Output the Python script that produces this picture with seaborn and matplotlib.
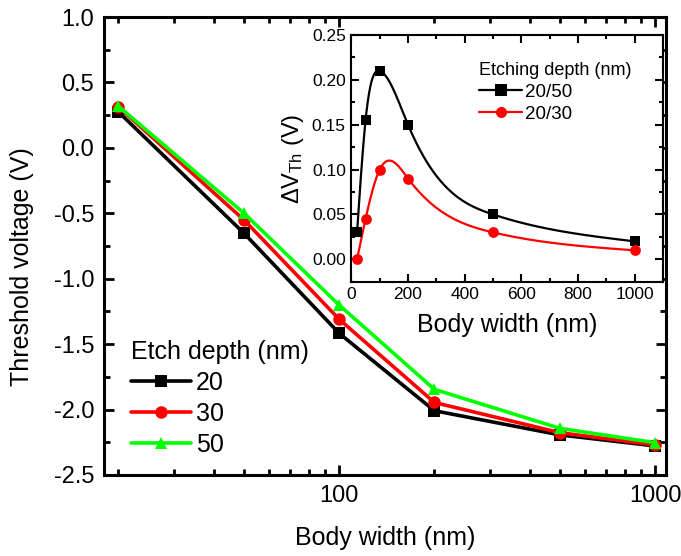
import numpy as np
import pandas as pd
import matplotlib
matplotlib.use("Agg")
import matplotlib.pyplot as plt
from matplotlib.lines import Line2D
from matplotlib.ticker import FixedLocator, NullFormatter, MultipleLocator, FixedFormatter, FormatStrFormatter
import seaborn as sns

# ---- main panel: threshold voltage vs body width ----
body_width = [20, 50, 100, 200, 500, 1000]
vth_20 = [0.275, -0.654, -1.418, -2.009, -2.194, -2.278]
vth_30 = [0.313, -0.552, -1.311, -1.946, -2.177, -2.271]
vth_50 = [0.318, -0.501, -1.202, -1.846, -2.144, -2.253]
depth_labels = ["20", "30", "50"]
depth_colors = ["black", "#ff0000", "#00ff00"]
depth_markers = ["s", "o", "^"]

# ---- inset: threshold shift between etch depths ----
inset_width = [20, 50, 100, 200, 500, 1000]
dvth_20_50 = [0.03, 0.155, 0.21, 0.15, 0.05, 0.02]
dvth_20_30 = [0.0, 0.045, 0.10, 0.09, 0.03, 0.01]
shift_labels = ["20/50", "20/30"]
shift_colors = ["black", "#ff0000"]
shift_markers = ["s", "o"]


def natural_spline(x, y, xs):
    """Natural cubic spline through (x, y), evaluated at xs."""
    x = np.asarray(x, float)
    y = np.asarray(y, float)
    n = len(x)
    h = np.diff(x)
    A = np.zeros((n, n))
    r = np.zeros(n)
    A[0, 0] = A[-1, -1] = 1.0
    for i in range(1, n - 1):
        A[i, i - 1] = h[i - 1]
        A[i, i] = 2 * (h[i - 1] + h[i])
        A[i, i + 1] = h[i]
        r[i] = 3 * ((y[i + 1] - y[i]) / h[i] - (y[i] - y[i - 1]) / h[i - 1])
    c = np.linalg.solve(A, r)
    b = (y[1:] - y[:-1]) / h - h * (2 * c[:-1] + c[1:]) / 3
    d = (c[1:] - c[:-1]) / (3 * h)
    idx = np.clip(np.searchsorted(x, xs, side="right") - 1, 0, n - 2)
    t = xs - x[idx]
    return y[idx] + b[idx] * t + c[idx] * t ** 2 + d[idx] * t ** 3


sns.set_theme(style="ticks")
plt.rcParams["font.family"] = ["Liberation Sans", "DejaVu Sans"]
plt.rcParams["mathtext.default"] = "regular"
plt.rcParams["xtick.direction"] = "in"
plt.rcParams["ytick.direction"] = "in"
for key in ["text.color", "axes.labelcolor", "xtick.color", "ytick.color",
            "axes.edgecolor", "legend.labelcolor"]:
    plt.rcParams[key] = "black"

fig = plt.figure(figsize=(6.81, 5.56), dpi=100)
ax = fig.add_axes([0.1527, 0.1457, 0.825, 0.8237])

main_df = pd.DataFrame({
    "width": body_width * 3,
    "vth": vth_20 + vth_30 + vth_50,
    "depth": [d for d in depth_labels for _ in body_width],
})
for lab, col, mk in zip(depth_labels, depth_colors, depth_markers):
    sub = main_df[main_df["depth"] == lab]
    sns.lineplot(data=sub, x="width", y="vth", ax=ax, color=col, marker=mk,
                 markersize=9, markeredgewidth=0, linewidth=2.6, label=lab,
                 sort=False)

ax.set_xscale("log")
ax.set_xlim(18, 1080)
ax.set_ylim(-2.5, 1.0)
ax.xaxis.set_major_locator(FixedLocator([100, 1000]))
ax.xaxis.set_major_formatter(FixedFormatter(["100", "1000"]))
ax.xaxis.set_minor_locator(FixedLocator([20, 30, 40, 50, 60, 70, 80, 90,
                                         200, 300, 400, 500, 600, 700, 800, 900]))
ax.xaxis.set_minor_formatter(NullFormatter())
ax.yaxis.set_major_locator(MultipleLocator(0.5))
ax.yaxis.set_minor_locator(MultipleLocator(0.25))
ax.yaxis.set_major_formatter(FormatStrFormatter("%.1f"))
ax.tick_params(which="both", top=True, right=True, width=2, labelsize=17, pad=7)
ax.tick_params(which="major", length=7)
ax.tick_params(which="minor", length=4)
for s in ax.spines.values():
    s.set_linewidth(2.2)
ax.set_xlabel("Body width (nm)", fontsize=18, labelpad=14)
ax.set_ylabel("Threshold voltage (V)", fontsize=18)
ax.yaxis.set_label_coords(-0.125, 0.454)

leg = ax.legend(loc="upper left", bbox_to_anchor=(0.048, 0.295), frameon=False,
                title="Etch depth (nm)", fontsize=18, title_fontsize=18,
                handlelength=2.4, handletextpad=0.2, labelspacing=0.28,
                borderpad=0, borderaxespad=0)
leg._legend_box.align = "left"

# ---- inset axes ----
ins = fig.add_axes([0.516, 0.4933, 0.4574, 0.4437])
xs = np.linspace(min(inset_width), max(inset_width), 600)
handles = []
for ys, lab, col, mk in zip([dvth_20_50, dvth_20_30], shift_labels, shift_colors, shift_markers):
    sns.lineplot(x=xs, y=natural_spline(inset_width, ys, xs), ax=ins, color=col,
                 linewidth=1.6, legend=False)
    sns.scatterplot(x=inset_width, y=ys, ax=ins, color=col, marker=mk, s=60,
                    linewidth=0, legend=False, zorder=3)
    handles.append(Line2D([], [], color=col, marker=mk, markersize=8,
                          markeredgewidth=0, linewidth=1.6, label=lab))

ins.set_xlim(0, 1100)
ins.set_ylim(-0.025, 0.25)
ins.xaxis.set_major_locator(MultipleLocator(200))
ins.xaxis.set_minor_locator(MultipleLocator(100))
ins.yaxis.set_major_locator(MultipleLocator(0.05))
ins.yaxis.set_minor_locator(MultipleLocator(0.025))
ins.yaxis.set_major_formatter(FormatStrFormatter("%.2f"))
ins.tick_params(which="both", top=True, right=True, width=1.5, labelsize=12.5, pad=4)
ins.tick_params(which="major", length=6)
ins.tick_params(which="minor", length=3)
for s in ins.spines.values():
    s.set_linewidth(1.5)
ins.set_xlabel("Body width (nm)", fontsize=18, labelpad=8)
ins.set_ylabel(r"$\Delta V_{Th}$ (V)", fontsize=17, labelpad=4)

leg2 = ins.legend(handles=handles, loc="upper left", bbox_to_anchor=(0.41, 0.89),
                  frameon=False, title="Etching depth (nm)", fontsize=13.5,
                  title_fontsize=13, handlelength=2.3, handletextpad=0.15,
                  labelspacing=0.25, borderpad=0, borderaxespad=0)
leg2._legend_box.align = "left"

fig.savefig("out.png", dpi=100)
